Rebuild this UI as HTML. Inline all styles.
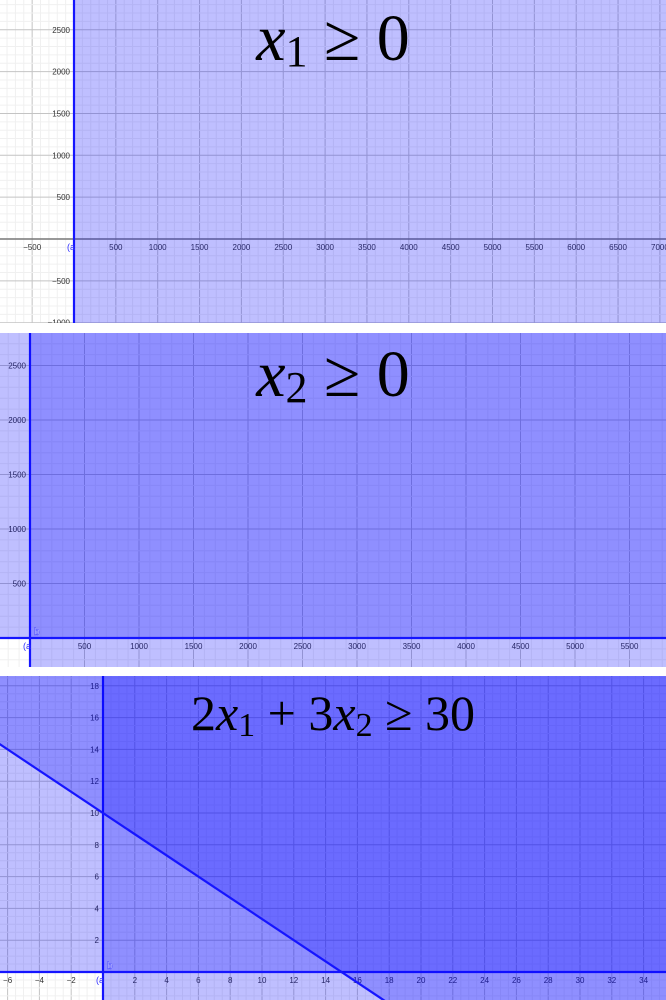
<!DOCTYPE html>
<html><head><meta charset="utf-8">
<style>
html,body{margin:0;padding:0;background:#fff;width:666px;height:1000px;overflow:hidden}
svg{display:block}
.t{font-family:"Liberation Sans",sans-serif;font-size:8px;fill:#333}
.title{font-family:"Liberation Serif",serif;fill:#000}
</style></head>
<body>
<svg id="root" width="666" height="1000" viewBox="0 0 666 1000" style="overflow:hidden"></svg>
<script>
// Panel data
const panelTops = [0, 333, 676];
const panelHeights = [323, 334, 324];
const originX = [74, 30, 103];
const originY = [239, 638, 972];
const unitPx = [0.0837, 0.109, 15.9];
const majorStep = [500, 500, 2];
const minorStep = [100, 100, 0.5];
// constraints per panel: [a, b, c] meaning a*x + b*y >= c
const constraints1 = [[1, 0, 0]];
const constraints2 = [[1, 0, 0], [0, 1, 0]];
const constraints3 = [[1, 0, 0], [0, 1, 0], [2, 3, 30]];

const NS = "http://www.w3.org/2000/svg";
const root = document.getElementById('root');
function mk(tag, attrs, parent) {
  const e = document.createElementNS(NS, tag);
  for (const k in attrs) e.setAttribute(k, attrs[k]);
  parent.appendChild(e);
  return e;
}
const allCons = [constraints1, constraints2, constraints3];

for (let p = 0; p < 3; p++) {
  const top = panelTops[p], H = panelHeights[p], W = 666;
  const ox = originX[p], oy = originY[p] - top, s = unitPx[p];
  const sx = v => ox + v * s;
  const sy = v => oy - v * s;
  const xmin = -ox / s, xmax = (W - ox) / s, ymin = -(H - oy) / s, ymax = oy / s;
  const g = mk('svg', {x: 0, y: top, width: W, height: H, viewBox: `0 0 ${W} ${H}`, overflow: 'hidden'}, root);
  
  
  mk('rect', {x: 0, y: 0, width: W, height: H, fill: '#fff'}, g);
  const gridG = mk('g', {}, g);
  
  
  const mn = minorStep[p], mj = majorStep[p];
  for (let v = Math.ceil(xmin / mn) * mn; v <= xmax; v += mn) {
    const isMaj = Math.abs(v / mj - Math.round(v / mj)) < 1e-6;
    mk('line', {x1: sx(v), x2: sx(v), y1: 0, y2: H, stroke: isMaj ? '#c4c4c4' : '#f0f0f0', 'stroke-width': 1}, gridG);
  }
  for (let v = Math.ceil(ymin / mn) * mn; v <= ymax; v += mn) {
    const isMaj = Math.abs(v / mj - Math.round(v / mj)) < 1e-6;
    mk('line', {x1: 0, x2: W, y1: sy(v), y2: sy(v), stroke: isMaj ? '#c4c4c4' : '#f0f0f0', 'stroke-width': 1}, gridG);
  }
  mk('line', {x1: 0, x2: W, y1: oy, y2: oy, stroke: '#777', 'stroke-width': 1.5}, g);
  mk('line', {x1: ox, x2: ox, y1: 0, y2: H, stroke: '#777', 'stroke-width': 1.5}, g);
  const lab = mk('g', {class: 't'}, g);
  
  
  for (let v = Math.ceil(xmin / mj) * mj; v <= xmax + 1e-9; v += mj) {
    if (Math.abs(v) < 1e-9) continue;
    const t = mk('text', {x: sx(v), y: oy + 11, 'text-anchor': 'middle'}, lab);
    t.textContent = (v < 0 ? '−' + (-v) : v);
  }
  for (let v = Math.ceil(ymin / mj) * mj; v <= ymax + 1e-9; v += mj) {
    if (Math.abs(v) < 1e-9) continue;
    const t = mk('text', {x: ox - 4, y: sy(v) + 3, 'text-anchor': 'end'}, lab);
    t.textContent = (v < 0 ? '−' + (-v) : v);
  }
  const cons = allCons[p];
  cons.forEach((c, i) => {
    const [a, b, cc] = c;
    let poly = [[xmin - 1, ymin - 1], [xmax + 1, ymin - 1], [xmax + 1, ymax + 1], [xmin - 1, ymax + 1]];
    const f = q => a * q[0] + b * q[1] - cc;
    const out = [];
    for (let k = 0; k < poly.length; k++) {
      const P = poly[k], Q = poly[(k + 1) % poly.length];
      const fp = f(P), fq = f(Q);
      if (fp >= 0) out.push(P);
      if ((fp >= 0) !== (fq >= 0)) {
        const tt = fp / (fp - fq);
        out.push([P[0] + tt * (Q[0] - P[0]), P[1] + tt * (Q[1] - P[1])]);
      }
    }
    const pg = mk('polygon', {points: out.map(q => sx(q[0]) + ',' + sy(q[1])).join(' '), fill: 'rgb(0,0,255)', 'fill-opacity': 0.25}, g);
    
    
    let x1, y1, x2, y2;
    if (Math.abs(b) < 1e-12) { x1 = x2 = cc / a; y1 = ymin - 1; y2 = ymax + 1; }
    else { x1 = xmin - 1; x2 = xmax + 1; y1 = (cc - a * x1) / b; y2 = (cc - a * x2) / b; }
    const ln = mk('line', {x1: sx(x1), y1: sy(y1), x2: sx(x2), y2: sy(y2), stroke: '#1515ff', 'stroke-width': 2.2}, g);
    
    
  });
  const al = mk('text', {x: ox - 7, y: oy + 11, fill: '#3030ff', 'font-family': 'Liberation Sans,sans-serif', 'font-size': 9}, g);
  al.textContent = '(a';
  
  
  if (p > 0) {
    const bl = mk('text', {x: ox + 4, y: oy - 3, fill: '#fff', stroke: '#3030ff', 'stroke-width': 0.4, 'font-family': 'Liberation Sans,sans-serif', 'font-size': 10}, g);
    bl.textContent = 'b';
    
    
  }
}

function title(y, size, parts, name) {
  const t = mk('text', {x: 333, y: y, 'text-anchor': 'middle', class: 'title', 'font-size': size}, root);
  
  
  parts.forEach(pt => {
    const ts = mk('tspan', pt.attrs || {}, t);
    ts.textContent = pt.s;
  });
}
title(60, 66, [{s: 'x', attrs: {'font-style': 'italic'}}, {s: '1', attrs: {'font-size': 44, dy: 6}}, {s: ' ≥ 0', attrs: {dy: -6}}], 'title-constraint-1');
title(396, 66, [{s: 'x', attrs: {'font-style': 'italic'}}, {s: '2', attrs: {'font-size': 44, dy: 6}}, {s: ' ≥ 0', attrs: {dy: -6}}], 'title-constraint-2');
title(730, 50, [{s: '2'}, {s: 'x', attrs: {'font-style': 'italic'}}, {s: '1', attrs: {'font-size': 34, dy: 6}}, {s: ' + 3', attrs: {dy: -6}}, {s: 'x', attrs: {'font-style': 'italic'}}, {s: '2', attrs: {'font-size': 34, dy: 6}}, {s: ' ≥ 30', attrs: {dy: -6}}], 'title-constraint-3');
</script>
</body></html>
